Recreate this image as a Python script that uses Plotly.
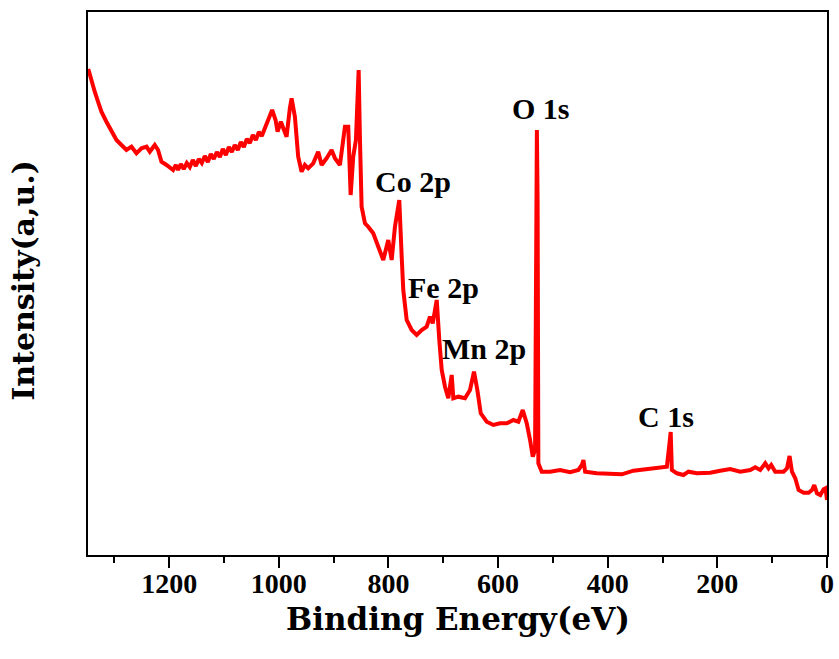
import plotly.graph_objects as go

# Binding energy (eV) and intensity (a.u.)
binding_energy = [
    1347.5, 1341.7, 1335.7, 1329.7, 1323.5, 1314.4, 1305.2, 1296.1, 1287.0, 1277.9,
    1268.7, 1259.6, 1250.5, 1241.3, 1235.3, 1226.2, 1220.2, 1214.0, 1204.8, 1192.8,
    1187.8, 1183.7, 1178.7, 1173.3, 1167.8, 1162.3, 1156.8, 1151.3, 1145.9, 1140.4,
    1134.9, 1129.4, 1124.0, 1118.5, 1113.0, 1107.5, 1102.1, 1096.6, 1091.1, 1085.6,
    1080.2, 1074.7, 1069.2, 1063.7, 1058.3, 1052.8, 1047.3, 1041.8, 1036.3, 1030.9,
    1025.4, 1016.3, 1012.1, 1005.9, 1002.2, 996.2, 990.2, 985.8, 979.8,
    976.6, 970.6, 964.6, 958.4, 952.4, 946.3, 937.2, 928.1, 921.9, 912.8,
    903.6, 897.6, 888.5, 879.3, 873.3, 868.9, 864.2, 859.3, 854.3, 851.9,
    848.9, 842.8, 836.8, 827.7, 818.6, 809.4, 800.3, 794.1, 788.1, 780.2,
    775.8, 772.9, 766.7, 757.6, 748.5, 739.3, 730.2, 724.2, 719.2, 711.9,
    707.2, 702.8, 696.8, 690.8, 684.6, 681.6, 672.5, 660.3, 651.2, 643.9,
    637.8, 631.6, 620.7, 608.6, 596.4, 584.2, 572.1, 563.0, 555.0, 547.7,
    541.6, 536.7, 532.5, 530.3, 529.2, 527.9, 526.5, 520.3, 505.1, 486.9,
    468.6, 453.5, 447.2, 444.3, 441.2, 419.9, 395.6, 374.2, 353.1, 328.6,
    304.3, 292.1, 287.3, 285.1, 283.0, 273.8, 261.8, 252.7, 237.3, 213.0,
    194.8, 176.5, 158.3, 140.0, 130.9, 121.8, 112.6, 106.6, 101.7, 94.4,
    79.2, 73.0, 68.3, 63.9, 57.9, 51.8, 42.7, 33.6, 27.4, 23.2,
    18.3, 12.2, 6.2, 2.6, 0.0,
]
intensity = [
    486, 473.3, 463.3, 453.3, 443.3, 433.3, 423.3, 415, 410, 405,
    408.3, 401.7, 406.7, 408.3, 403.3, 410, 405, 393.3, 390, 385,
    390, 385, 391, 386, 392, 388, 395, 389, 396, 392,
    399, 393, 401, 396, 403, 398, 406, 400, 408, 403,
    410, 405, 413, 408, 416, 412, 420, 415, 423, 419,
    426.7, 440, 445, 435, 423.3, 433.3, 423.3, 418.3, 446.7,
    456.7, 438.3, 398.3, 383.3, 390, 386.7, 391.7, 403.3, 390, 396.7,
    405, 396.7, 390, 428.3, 428.3, 360, 398.3, 415, 485, 415,
    348.3, 331.7, 328.3, 321.7, 308.3, 295, 315, 295, 328.3, 355,
    298.3, 265, 235, 225, 220, 225, 228.3, 238.3, 231.7, 255,
    215, 185, 168.3, 156.7, 180, 156.7, 158.3, 156.7, 165, 183.3,
    165, 141.7, 133.3, 130, 131.7, 131.7, 135, 133.3, 145, 131.7,
    115, 98.3, 105, 355, 425, 355, 91.7, 83.3, 83.3, 85,
    82.7, 85, 90, 95, 83.3, 81.7, 81.7, 80.7, 84.3, 85.7,
    86.7, 88.3, 111.7, 123, 85, 81.7, 80, 83.3, 81.7, 82.3,
    84.3, 86, 83.3, 85, 87.7, 85, 91.7, 86.7, 90, 83.3,
    83.3, 86.7, 99, 83.3, 76.7, 65, 62.3, 62.3, 65, 70,
    61.7, 60, 65.7, 66.7, 55,
]

# Peak labels
peak_labels = ["O 1s", "Co 2p", "Fe 2p", "Mn 2p", "C 1s"]
label_x = [521.5, 755.2, 700.4, 625.6, 294.3]
label_y = [447, 374, 268, 207, 139]

x_tickvals = [0, 200, 400, 600, 800, 1000, 1200]
x_ticktext = ["0", "200", "400", "600", "800", "1000", "1200"]
x_minor_tickvals = [100, 300, 500, 700, 900, 1100, 1300]

x_title = "Binding Energy(eV)"
y_title = "Intensity(a,u.)"

serif = "Liberation Serif"
wide_serif = "DejaVu Serif"

fig = go.Figure()
fig.add_trace(go.Scatter(
    x=binding_energy, y=intensity, mode="lines",
    line=dict(color="#FF0000", width=4),
    showlegend=False, hoverinfo="skip",
))

for txt, lx, ly in zip(peak_labels, label_x, label_y):
    fig.add_annotation(
        x=lx, y=ly, xref="x", yref="y", text=txt, showarrow=False,
        xanchor="center", yanchor="middle",
        font=dict(family=serif, size=30, color="black", weight="bold"),
    )

# axis titles as annotations for precise placement
fig.add_annotation(
    x=-0.0866, y=0.505, xref="paper", yref="paper", text=y_title,
    showarrow=False, textangle=-90, xanchor="center", yanchor="middle",
    font=dict(family=wide_serif, size=30, color="black", weight="bold"),
)
fig.add_annotation(
    x=0.5, y=-0.117, xref="paper", yref="paper", text=x_title,
    showarrow=False, xanchor="center", yanchor="middle", borderpad=0,
    font=dict(family=wide_serif, size=31, color="black", weight="bold"),
)

fig.update_layout(
    width=839, height=659,
    margin=dict(l=88, r=12, t=12, b=104),
    paper_bgcolor="white", plot_bgcolor="white",
    xaxis=dict(
        range=[1348, 0], showgrid=False, zeroline=False,
        showline=True, linecolor="black", linewidth=1.5, mirror=True,
        ticks="outside", ticklen=11, tickwidth=1.5, tickcolor="black",
        tickvals=x_tickvals, ticktext=x_ticktext,
        minor=dict(ticks="outside", ticklen=6, tickwidth=1.5, tickcolor="black",
                   tickvals=x_minor_tickvals),
        tickfont=dict(family=serif, size=28, color="black", weight="bold"),
        ticklabelstandoff=-8,
        automargin=False,
    ),
    yaxis=dict(
        range=[0, 543], showgrid=False, zeroline=False,
        showline=True, linecolor="black", linewidth=1.5, mirror=True,
        ticks="", showticklabels=False, automargin=False,
    ),
)

fig.write_html(
    "out.html",
    config={"displayModeBar": False},
    post_script="document.body.style.margin='0';document.body.style.overflow='hidden';",
)
